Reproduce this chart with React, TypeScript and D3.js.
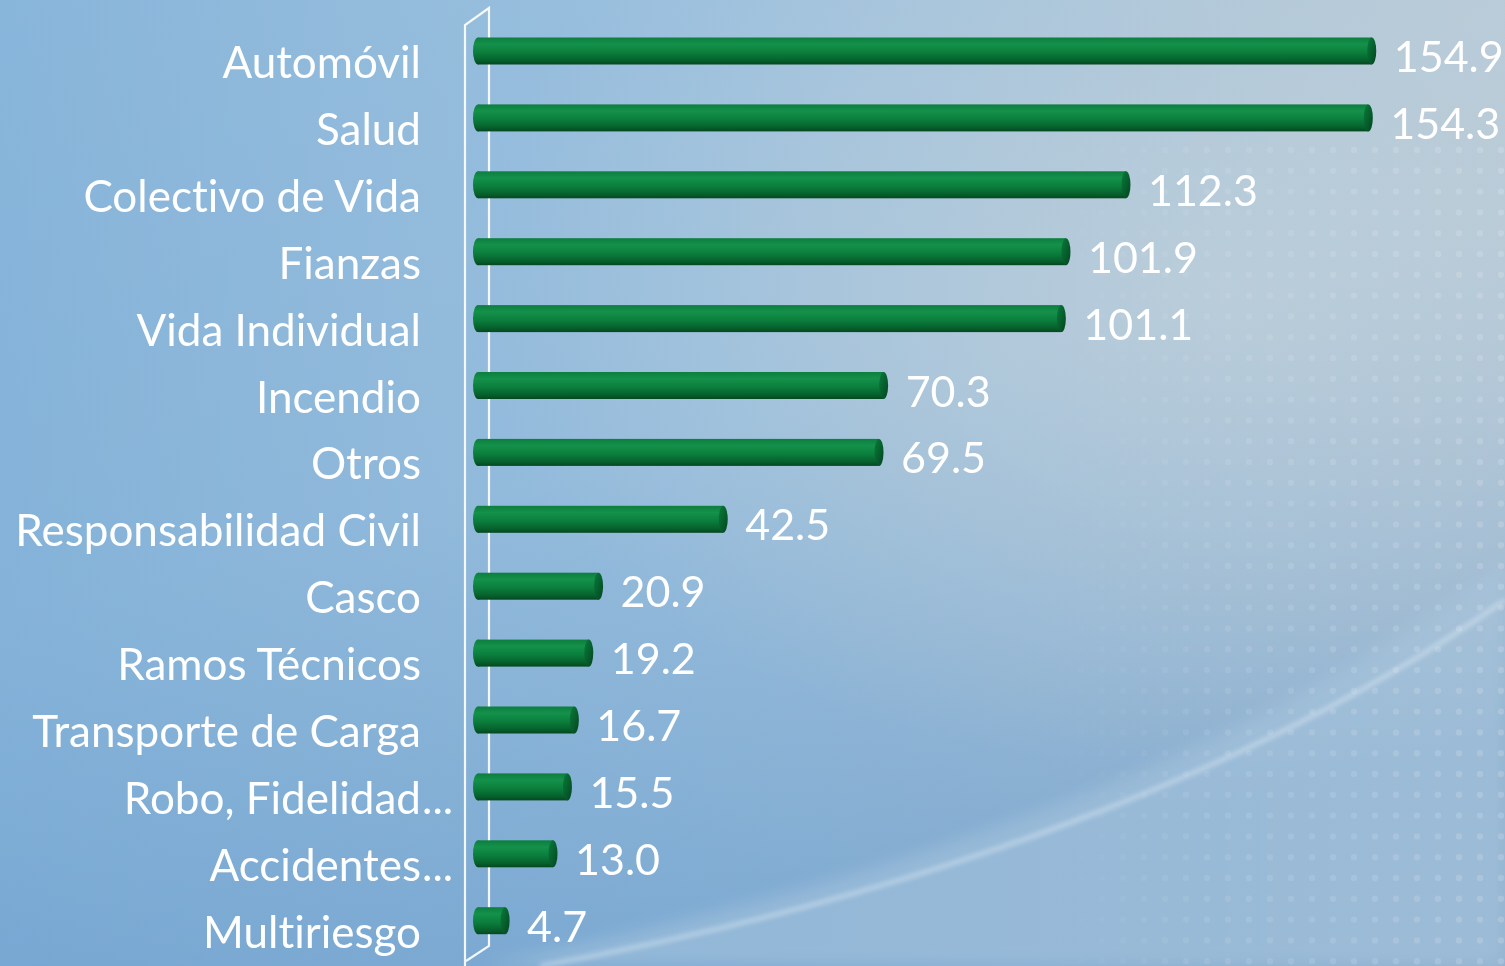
import React from "react";
import * as d3 from "d3";

const categories = [
  "Automóvil",
  "Salud",
  "Colectivo de Vida",
  "Fianzas",
  "Vida Individual",
  "Incendio",
  "Otros",
  "Responsabilidad Civil",
  "Casco",
  "Ramos Técnicos",
  "Transporte de Carga",
  "Robo, Fidelidad...",
  "Accidentes...",
  "Multiriesgo",
];
const values = [154.9, 154.3, 112.3, 101.9, 101.1, 70.3, 69.5, 42.5, 20.9, 19.2, 16.7, 15.5, 13.0, 4.7];

const W = 1505;
const H = 966;
const FONT = "Lato, 'Open Sans', sans-serif";
const textStyle: React.CSSProperties = { fontVariantLigatures: "none", fontFeatureSettings: "'liga' 0, 'clig' 0" };

export default function App() {
  const x = d3.scaleLinear().domain([0, 160]).range([478, 478 + 160 * 5.77]);
  const step = 66.9;
  const y = d3
    .scaleBand<string>()
    .domain(categories)
    .range([51 - step / 2, 51 - step / 2 + step * categories.length])
    .padding(0);
  const bh = 27;
  const dots: { cx: number; cy: number }[] = [];
  for (let i = 0; i < 22; i++) {
    for (let j = 0; j < 40; j++) {
      dots.push({ cx: 1060 + i * 21, cy: 150 + j * 20.8 });
    }
  }
  return (
    <svg width={W} height={H} style={{ display: "block", position: "absolute", left: 0, top: 0 }}>
      <defs>
        <linearGradient id="bgH" x1="0" x2="1" y1="0" y2="0">
          <stop offset="0" stopColor="#88b5da" />
          <stop offset="0.45" stopColor="#9cc1de" />
          <stop offset="1" stopColor="#bccdd8" />
        </linearGradient>
        <linearGradient id="bgV" x1="0" x2="0.4" y1="0" y2="1">
          <stop offset="0" stopColor="#5a8fc4" stopOpacity="0" />
          <stop offset="0.55" stopColor="#5a8fc4" stopOpacity="0.08" />
          <stop offset="1" stopColor="#4f87c0" stopOpacity="0.4" />
        </linearGradient>
        <radialGradient id="glow" cx="0.8" cy="0.3" r="0.5">
          <stop offset="0" stopColor="#c6d3db" stopOpacity="0.55" />
          <stop offset="1" stopColor="#c6d3db" stopOpacity="0" />
        </radialGradient>
        <linearGradient id="dotMaskG" x1="0" x2="1" y1="0" y2="0">
          <stop offset="0" stopColor="#fff" stopOpacity="0" />
          <stop offset="0.4" stopColor="#fff" stopOpacity="0.6" />
          <stop offset="1" stopColor="#fff" stopOpacity="1" />
        </linearGradient>
        <mask id="dotMask">
          <rect x={1040} y={0} width={470} height={H} fill="url(#dotMaskG)" />
        </mask>
        <linearGradient id="barG" x1="0" x2="0" y1="0" y2="1">
          <stop offset="0" stopColor="#0d7e3e" />
          <stop offset="0.25" stopColor="#14914b" />
          <stop offset="0.55" stopColor="#0b7f3d" />
          <stop offset="0.85" stopColor="#06602c" />
          <stop offset="1" stopColor="#04481f" />
        </linearGradient>
        <linearGradient id="capG" x1="0" x2="1" y1="0" y2="1">
          <stop offset="0" stopColor="#0b7a3a" />
          <stop offset="0.5" stopColor="#06602d" />
          <stop offset="1" stopColor="#044520" />
        </linearGradient>
        <filter id="blur8" x="-20%" y="-20%" width="140%" height="140%">
          <feGaussianBlur stdDeviation="8" />
        </filter>
        <filter id="blur3" x="-20%" y="-20%" width="140%" height="140%">
          <feGaussianBlur stdDeviation="2.5" />
        </filter>
      </defs>

      {/* background */}
      <rect x={0} y={0} width={W} height={H} fill="url(#bgH)" />
      <rect x={0} y={0} width={W} height={H} fill="url(#bgV)" />
      <rect x={0} y={0} width={W} height={H} fill="url(#glow)" />
      <path
        d={`M 480 ${H} C 900 880, 1250 760, 1505 560 L 1505 ${H} Z`}
        fill="#a9c6de"
        opacity={0.5}
        filter="url(#blur8)"
      />
      <path
        d={`M 540 ${H} C 900 900, 1250 780, 1505 600`}
        fill="none"
        stroke="#e6f0f7"
        strokeWidth={4}
        opacity={0.5}
        filter="url(#blur3)"
      />
      <g mask="url(#dotMask)">
        {dots.map((d, i) => (
          <circle key={i} cx={d.cx} cy={d.cy} r={3.2} fill="#ffffff" opacity={0.16} />
        ))}
      </g>

      {/* 3D wall */}
      <path
        d="M 465 966 L 465 25 L 489 8 L 489 946 L 466 961"
        fill="none"
        stroke="#ffffff"
        strokeWidth={2.2}
        strokeOpacity={0.9}
        strokeLinejoin="miter"
      />

      {/* bars */}
      {categories.map((c, i) => {
        const cy = (y(c) as number) + y.bandwidth() / 2;
        const x0 = x(0);
        const x1 = x(values[i]);
        return (
          <g key={c}>
            <ellipse cx={x0} cy={cy} rx={5} ry={bh / 2} fill="url(#barG)" />
            <rect x={x0} y={cy - bh / 2} width={x1 - x0} height={bh} fill="url(#barG)" />
            <ellipse cx={x1} cy={cy} rx={4.5} ry={bh / 2} fill="url(#capG)" />
            <text
              x={x1 + 4 + 18}
              y={cy + 21}
              fill="#ffffff"
              fontFamily={FONT}
              fontSize={43}
              style={textStyle}
            >
              {values[i].toFixed(1)}
            </text>
          </g>
        );
      })}

      {/* category labels */}
      {categories.map((c) => {
        const cy = (y(c) as number) + y.bandwidth() / 2;
        const trunc = c.endsWith("...");
        const main = trunc ? c.slice(0, -3) : c;
        return (
          <g key={"l" + c}>
            <text
              x={421}
              y={cy + 27}
              textAnchor="end"
              fill="#ffffff"
              fontFamily={FONT}
              fontSize={44}
              style={textStyle}
            >
              {main}
            </text>
            {trunc && (
              <text x={422} y={cy + 27} fill="#ffffff" fontFamily={FONT} fontSize={44} style={textStyle}>
                ...
              </text>
            )}
          </g>
        );
      })}
    </svg>
  );
}
